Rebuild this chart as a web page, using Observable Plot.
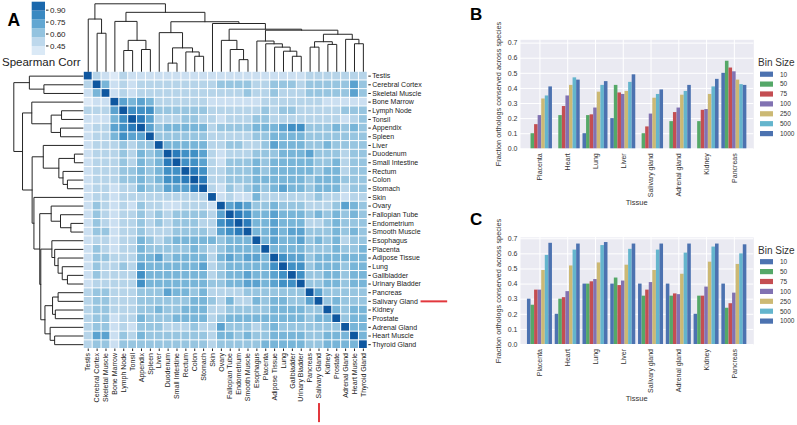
<!DOCTYPE html>
<html><head><meta charset="utf-8">
<script src="https://cdn.jsdelivr.net/npm/d3@7"></script>
<script src="https://cdn.jsdelivr.net/npm/@observablehq/plot@0.6"></script>
<style>
body{margin:0;background:#fff;}
#root{position:relative;width:797px;height:425px;overflow:hidden;font-family:"Liberation Sans",Arial,sans-serif;}
.layer{position:absolute;left:0;top:0;}
</style></head><body><div id="root"></div>
<script>
// ---------- Panel A data ----------
const tissues = ["Testis","Cerebral Cortex","Skeletal Muscle","Bone Marrow","Lymph Node","Tonsil","Appendix","Spleen","Liver","Duodenum","Small Intestine","Rectum","Colon","Stomach","Skin","Ovary","Fallopian Tube","Endometrium","Smooth Muscle","Esophagus","Placenta","Adipose Tissue","Lung","Gallbladder","Urinary Bladder","Pancreas","Salivary Gland","Kidney","Prostate","Adrenal Gland","Heart Muscle","Thyroid Gland"];
// correlation level per cell (digit = level, see corrLevels)
const corrRows = [
"9321322222222222"+"2222222223333333",
"3952323333333334"+"4443344434444464",
"2592323333333333"+"3343343334444464",
"1229656533333322"+"2222333333322222",
"3336977744444433"+"3333434433333444",
"2225798633344332"+"3334433333333234",
"2336789645555534"+"4445556774445454",
"2335766944444433"+"3334455554444444",
"2333434495555533"+"4433465554454444",
"2333435459877632"+"3334445556444344",
"2333435458977632"+"4445455555445344",
"2333445457798733"+"4445455555455344",
"2333445457789833"+"4445555554555444",
"2332335446668932"+"4345456554555344",
"2332333333333392"+"3225333333433233",
"2432324332233329"+"6764454443334654",
"2432334343444436"+"9875565554545454",
"2432334343444337"+"8985565553345444",
"2442334333444436"+"7895565664445454",
"2332335434555554"+"5559565564545344",
"2432335444445434"+"5555955554445445",
"2443335564555535"+"6566597664555555",
"2433436555555634"+"5555579774555455",
"2433337555555534"+"5565567974455455",
"2333337555555544"+"5566567794455455",
"3443334446554533"+"3344444449644444",
"3443334444445543"+"5335455446945444",
"3443334454455533"+"4444455554495455",
"3442335444555534"+"5555555554559455",
"3442324443334336"+"4443454444444955",
"3662435444444435"+"5454455554455595",
"3442444444444434"+"4444555554455559"
];
const corrLevels = [null, 0.38, 0.45, 0.52, 0.60, 0.67, 0.74, 0.81, 0.88, 1.00];
const colorbarTicks = [0.45, 0.60, 0.75, 0.90];
const colorbarRange = [0.33, 1.0];
// hierarchical clustering: [merge height, left, right]
const dendrogram = [1.0,
  [0.775, "Testis", [0.565, "Cerebral Cortex", "Skeletal Muscle"]],
  [0.874,
    [0.74, "Bone Marrow", [0.46, [0.31, "Lymph Node", "Tonsil"], [0.325, "Appendix", "Spleen"]]],
    [0.735,
      [0.574, "Liver", [0.349, [0.124, "Duodenum", "Small Intestine"], [0.289, "Rectum", [0.225, "Colon", "Stomach"]]]],
      [0.709, "Skin",
        [0.625,
          [0.46, "Ovary", [0.325, "Fallopian Tube", [0.175, "Endometrium", "Smooth Muscle"]]],
          [0.61,
            [0.45, "Esophagus", [0.409, "Placenta", [0.36, "Adipose Tissue", [0.30, "Lung", [0.225, "Gallbladder", "Urinary Bladder"]]]]],
            [0.55,
              [0.44, [0.36, "Pancreas", "Salivary Gland"], [0.40, "Kidney", "Prostate"]],
              [0.475, "Adrenal Gland", [0.41, "Heart Muscle", "Thyroid Gland"]]]
          ]
        ]
      ]
    ]
  ]
];
const markedTissue = "Salivary Gland";

// ---------- Panels B & C data ----------
const barTissues = ["Placenta","Heart","Lung","Liver","Salivary gland","Adrenal gland","Kidney","Pancreas"];
const binSizes = ["10","50","75","100","250","500","1000"];
const binColors = ["#4c72b0","#55a868","#c44e52","#8172b2","#ccb974","#64b5cd","#4c72b0"];
const B_bin10   = [0, 0, 0.10, 0.20, 0, 0, 0, 0.50];
const B_bin50   = [0.10, 0.22, 0.22, 0.42, 0.10, 0.18, 0.18, 0.58];
const B_bin75   = [0.16, 0.28, 0.225, 0.37, 0.145, 0.24, 0.255, 0.535];
const B_bin100  = [0.22, 0.35, 0.27, 0.36, 0.23, 0.27, 0.26, 0.51];
const B_bin250  = [0.33, 0.42, 0.375, 0.38, 0.335, 0.355, 0.36, 0.455];
const B_bin500  = [0.35, 0.47, 0.42, 0.44, 0.36, 0.38, 0.41, 0.425];
const B_bin1000 = [0.41, 0.455, 0.445, 0.49, 0.39, 0.42, 0.46, 0.42];
const C_bin10   = [0.30, 0.20, 0.40, 0.40, 0.40, 0.40, 0.20, 0.40];
const C_bin50   = [0.26, 0.30, 0.40, 0.44, 0.32, 0.32, 0.32, 0.24];
const C_bin75   = [0.36, 0.31, 0.415, 0.39, 0.36, 0.335, 0.32, 0.27];
const C_bin100  = [0.36, 0.35, 0.43, 0.42, 0.41, 0.33, 0.38, 0.34];
const C_bin250  = [0.49, 0.52, 0.54, 0.525, 0.49, 0.465, 0.545, 0.53];
const C_bin500  = [0.59, 0.625, 0.655, 0.63, 0.625, 0.605, 0.645, 0.60];
const C_bin1000 = [0.67, 0.665, 0.675, 0.665, 0.665, 0.665, 0.665, 0.66];
const yTicksBar = [0, 0.1, 0.2, 0.3, 0.4, 0.5, 0.6, 0.7];

// ---------- helpers ----------
const root = document.getElementById("root");
function place(el, left, top) {
  const d = document.createElement("div");
  d.className = "layer"; d.style.left = left + "px"; d.style.top = top + "px";
  d.appendChild(el); root.appendChild(d); return d;
}
const baseStyle = {background: "transparent", overflow: "visible", maxWidth: "none",
  fontFamily: '"Liberation Sans", Arial, sans-serif', color: "#222"};
const colorScale = {type: "linear", scheme: "blues", domain: [0.2604, 1.1304]};
const N = tissues.length;

// heatmap cells
const cells = [];
corrRows.forEach((row, i) => [...row].forEach((c, j) => cells.push({row: i, col: j, value: corrLevels[+c]})));
const mid = d3.range(N).map(i => i + 0.5);
const markIdx = tissues.indexOf(markedTissue);

const heat = Plot.plot({
  width: 797, height: 425,
  marginLeft: 83.3, marginRight: 429.7, marginTop: 71.3, marginBottom: 76.5,
  style: {...baseStyle, fontSize: "7px"},
  x: {domain: [0, N], ticks: mid, tickFormat: v => tissues[Math.floor(v)], tickRotate: -90, tickSize: 2.5, tickPadding: 1.5, label: null},
  y: {domain: [0, N], reverse: true, axis: "right", ticks: mid, tickFormat: v => tissues[Math.floor(v)], tickSize: 2.5, tickPadding: 2, label: null},
  color: colorScale,
  marks: [
    Plot.rect(cells, {x1: "col", x2: d => d.col + 1, y1: "row", y2: d => d.row + 1, fill: "value", inset: 0.5}),
    Plot.ruleY([markIdx], {y: d => d + 0.5, x1: 38.0, x2: 41.0, stroke: "#e2383d", strokeWidth: 2}),
    Plot.ruleX([markIdx], {x: d => d + 0.5, y1: 38.3, y2: 40.5, stroke: "#e2383d", strokeWidth: 2})
  ]
});

// dendrogram segments
const dendroPts = [];
let nodeId = 0;
function walk(n) {
  if (typeof n === "string") return {pos: tissues.indexOf(n) + 0.5, h: 0};
  const [h, a, b] = n;
  const A = walk(a), B = walk(b);
  const id = nodeId++;
  dendroPts.push({id, pos: A.pos, h: A.h}, {id, pos: A.pos, h}, {id, pos: B.pos, h}, {id, pos: B.pos, h: B.h});
  return {pos: (A.pos + B.pos) / 2, h};
}
walk(dendrogram);

const topDendro = Plot.plot({
  width: 797, height: 72, marginLeft: 83.3, marginRight: 429.7, marginTop: 3.3, marginBottom: 1,
  style: baseStyle,
  x: {domain: [0, N], axis: null}, y: {domain: [0, 1], axis: null},
  marks: [Plot.line(dendroPts, {x: "pos", y: "h", z: "id", stroke: "#262626", strokeWidth: 1})]
});
const leftDendro = Plot.plot({
  width: 83.5, height: 425, marginLeft: 13.3, marginRight: 1, marginTop: 71.3, marginBottom: 76.5,
  style: baseStyle,
  y: {domain: [0, N], reverse: true, axis: null}, x: {domain: [0, 1], reverse: true, axis: null},
  marks: [Plot.line(dendroPts, {y: "pos", x: "h", z: "id", stroke: "#262626", strokeWidth: 1})]
});

// colorbar
const nBands = 6;
const bandStep = (colorbarRange[1] - colorbarRange[0]) / nBands;
const bands = d3.range(nBands).map(i => ({y1: colorbarRange[0] + i * bandStep, y2: colorbarRange[0] + (i + 1) * bandStep, v: colorbarRange[0] + (i + 0.5) * bandStep}));
const cbar = Plot.plot({
  width: 80, height: 57, marginLeft: 31.7, marginRight: 35, marginTop: 1.7, marginBottom: 2,
  style: {...baseStyle, fontSize: "8px"},
  x: {axis: null},
  y: {domain: colorbarRange, axis: "right", ticks: colorbarTicks, tickFormat: ".2f", tickSize: 2.5, tickPadding: 2, label: null},
  color: colorScale,
  marks: [Plot.rect(bands, {y1: "y1", y2: "y2", fill: "v"})]
});

// grouped bars
function barPanel(series, yMax, height, marginTop, marginBottom) {
  const data = [];
  series.forEach((vals, bi) => vals.forEach((v, ti) => data.push({t: ti, bi, bin: binSizes[bi], value: v})));
  const w = 0.9 / binSizes.length;
  return Plot.plot({
    width: 317, height, marginLeft: 40, marginRight: 43.7, marginTop, marginBottom,
    style: {...baseStyle, fontSize: "7px", color: "#333"},
    x: {domain: [-0.7, 7.7], ticks: d3.range(barTissues.length), tickFormat: i => barTissues[i], tickRotate: -90, tickSize: 0, tickPadding: 4.5, label: null},
    y: {domain: [0, yMax], ticks: yTicksBar, tickFormat: ".1f", tickSize: 0, tickPadding: 3, label: null},
    color: {domain: binSizes, range: binColors},
    marks: [
      Plot.frame({fill: "#eaeaf2", stroke: null}),
      Plot.gridY(yTicksBar, {stroke: "white", strokeOpacity: 1, strokeWidth: 1}),
      Plot.gridX(d3.range(barTissues.length), {stroke: "white", strokeOpacity: 1, strokeWidth: 1}),
      Plot.rect(data.filter(d => d.value > 0), {x1: d => d.t - 0.45 + d.bi * w, x2: d => d.t - 0.45 + (d.bi + 1) * w, y1: 0, y2: "value", fill: "bin"})
    ]
  });
}
const panelB = barPanel([B_bin10, B_bin50, B_bin75, B_bin100, B_bin250, B_bin500, B_bin1000], 0.722, 210, 39.3, 61.7);
const panelC = barPanel([C_bin10, C_bin50, C_bin75, C_bin100, C_bin250, C_bin500, C_bin1000], 0.709, 225, 36.9, 81);

place(leftDendro, 0, 0);
place(topDendro, 0, 0);
place(heat, 0, 0);
place(cbar, 0, 0);
place(panelB, 480, 0);
place(panelC, 480, 200);

// text overlay (titles, axis titles, legends)
const svg = d3.select(root).append("svg").attr("class", "layer").attr("width", 797).attr("height", 425)
  .style("font-family", '"Liberation Sans", Arial, sans-serif').style("pointer-events", "none");
function txt(s, x, y, size, opts = {}) {
  const t = svg.append("text").attr("x", x).attr("y", y).attr("font-size", size).attr("fill", opts.fill || "#222").text(s);
  if (opts.bold) t.attr("font-weight", "bold");
  if (opts.anchor) t.attr("text-anchor", opts.anchor);
  if (opts.rotate) t.attr("transform", `rotate(-90,${x},${y})`);
  return t;
}
txt("A", 7.5, 26, 17.5, {bold: true, fill: "#000"});
txt("Spearman Corr", 2, 65.5, 11.5);
txt("B", 470, 19.5, 17, {bold: true, fill: "#000"});
txt("C", 470, 225, 17, {bold: true, fill: "#000"});
const yTitle = "Fraction orthologs conserved across species";
txt(yTitle, 500.5, 94, 7.3, {rotate: true, anchor: "middle", fill: "#333"});
txt(yTitle, 500.5, 291, 7.3, {rotate: true, anchor: "middle", fill: "#333"});
txt("Tissue", 636.7, 204.5, 7.5, {anchor: "middle", fill: "#333"});
txt("Tissue", 636.7, 400.5, 7.5, {anchor: "middle", fill: "#333"});
function legend(top) {
  txt("Bin Size", 758, top, 10, {fill: "#333"});
  binSizes.forEach((b, i) => {
    const cy = top + 8.2 + i * 9.9;
    svg.append("rect").attr("x", 760).attr("y", cy - 2.6).attr("width", 13).attr("height", 5.2).attr("fill", binColors[i]);
    txt(b, 780, cy + 2.3, 6.5, {fill: "#333"});
  });
}
legend(66);
legend(253.5);
</script></body></html>
